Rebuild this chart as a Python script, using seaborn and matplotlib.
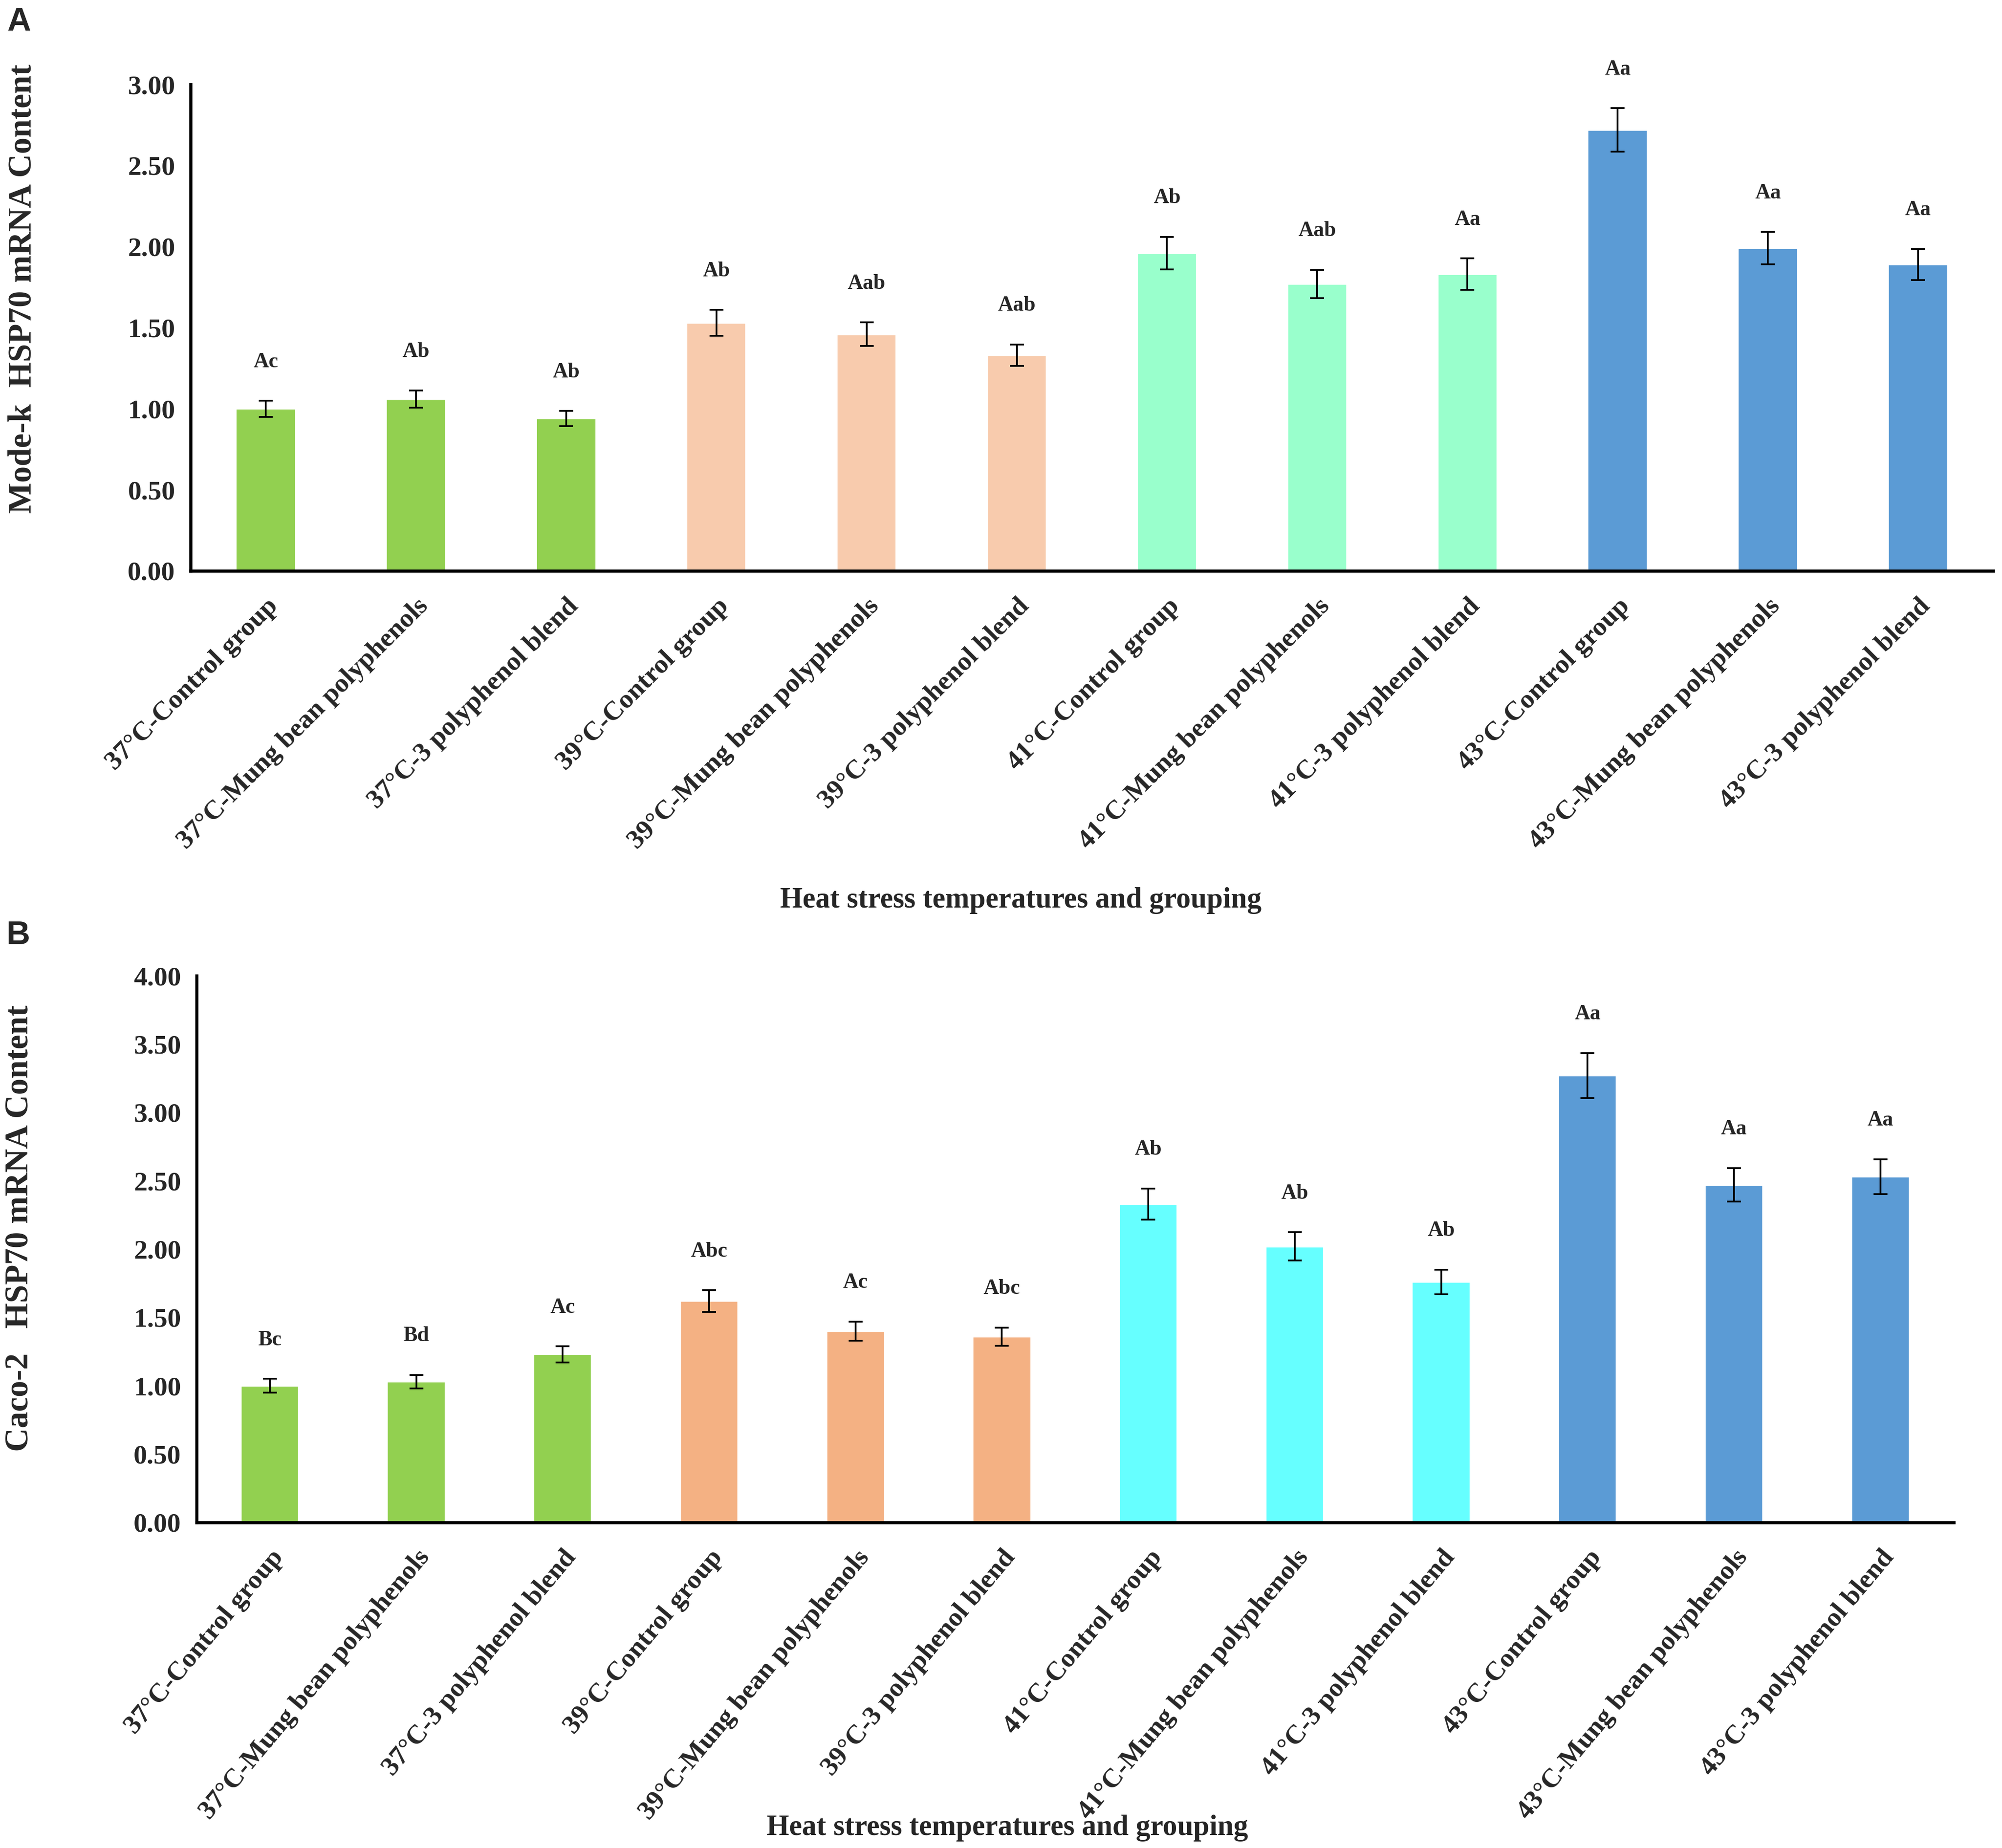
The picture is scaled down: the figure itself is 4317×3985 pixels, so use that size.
import numpy as np
import pandas as pd
import matplotlib
matplotlib.use("Agg")
import matplotlib.pyplot as plt
import seaborn as sns

# Datos
grupos = ["37°C-Control group", "37°C-Mung bean polyphenols", "37°C-3 polyphenol blend",
          "39°C-Control group", "39°C-Mung bean polyphenols", "39°C-3 polyphenol blend",
          "41°C-Control group", "41°C-Mung bean polyphenols", "41°C-3 polyphenol blend",
          "43°C-Control group", "43°C-Mung bean polyphenols", "43°C-3 polyphenol blend"]

# Panel A - Mode-k
modek_media = [1.00, 1.06, 0.94, 1.53, 1.46, 1.33, 1.96, 1.77, 1.83, 2.72, 1.99, 1.89]
modek_error = [0.05, 0.053, 0.047, 0.08, 0.072, 0.067, 0.10, 0.087, 0.097, 0.134, 0.10, 0.096]
modek_letras = ["Ac", "Ab", "Ab", "Ab", "Aab", "Aab", "Ab", "Aab", "Aa", "Aa", "Aa", "Aa"]

# Panel B - Caco-2
caco_media = [1.00, 1.03, 1.23, 1.62, 1.40, 1.36, 2.33, 2.02, 1.76, 3.27, 2.47, 2.53]
caco_error = [0.05, 0.05, 0.059, 0.08, 0.07, 0.066, 0.114, 0.104, 0.09, 0.165, 0.123, 0.128]
caco_letras = ["Bc", "Bd", "Ac", "Abc", "Ac", "Abc", "Ab", "Ab", "Ab", "Aa", "Aa", "Aa"]

colores_a = ["#92D050"] * 3 + ["#F8CBAD"] * 3 + ["#99FFCC"] * 3 + ["#5B9BD5"] * 3
colores_b = ["#92D050"] * 3 + ["#F4B183"] * 3 + ["#66FFFF"] * 3 + ["#5B9BD5"] * 3

sns.set_style("white")
plt.rcParams["font.family"] = ["Liberation Serif", "DejaVu Serif"]
plt.rcParams["font.weight"] = "bold"

fig = plt.figure(figsize=(4317 / 300, 3985 / 300), dpi=300)
ax_a = fig.add_axes([0.0952, 0.6911, 0.9004, 0.2632])
ax_b = fig.add_axes([0.0982, 0.1762, 0.8776, 0.2958])


def dibujar(ax, media, error, letras, colores, ymax, ylabel, ylab_xy, xlab_xy, rot):
    df = pd.DataFrame({"grupo": grupos, "valor": media})
    sns.barplot(data=df, x="grupo", y="valor", hue="grupo", palette=colores,
                legend=False, width=0.4, saturation=1, ax=ax)
    x = np.arange(len(grupos))
    ax.errorbar(x, media, yerr=error, fmt="none", ecolor="black",
                elinewidth=0.9, capsize=3.5, capthick=0.9)
    for i in range(len(grupos)):
        ax.annotate(letras[i], (x[i], media[i] + error[i]), xytext=(0, 20),
                    textcoords="offset points", ha="center", va="center",
                    fontsize=11, fontweight="bold")
    ax.set_xlim(-0.5, len(grupos) - 0.5)
    ax.set_ylim(0, ymax)
    ax.set_yticks(np.arange(0, ymax + 0.01, 0.5))
    ax.set_yticklabels([f"{v:.2f}" for v in np.arange(0, ymax + 0.01, 0.5)],
                       fontsize=14, fontweight="bold")
    ax.set_xticks(x)
    ax.set_xticklabels(grupos, rotation=rot, ha="right", rotation_mode="anchor",
                       fontsize=14, fontweight="bold")
    ax.set_xticks(np.arange(-0.5, len(grupos), 1), minor=True)
    ax.tick_params(axis="x", which="major", length=0, pad=12)
    ax.tick_params(axis="x", which="minor", direction="in", length=4, width=1.3)
    ax.tick_params(axis="y", direction="in", length=4, width=1.3, pad=8)
    for lado in ["top", "right"]:
        ax.spines[lado].set_visible(False)
    for lado in ["left", "bottom"]:
        ax.spines[lado].set_linewidth(1.6)
        ax.spines[lado].set_color("black")
    ax.set_ylabel(ylabel, fontsize=17, fontweight="bold")
    ax.yaxis.set_label_coords(*ylab_xy)
    ax.yaxis.label.set_va("center")
    ax.set_xlabel("Heat stress temperatures and grouping", fontsize=15, fontweight="bold")
    ax.xaxis.set_label_coords(*xlab_xy)
    ax.xaxis.label.set_va("center")


dibujar(ax_a, modek_media, modek_error, modek_letras, colores_a, 3.0,
        "Mode-k  HSP70 mRNA Content", (-0.093, 0.58), (0.4605, -0.678), 45)
dibujar(ax_b, caco_media, caco_error, caco_letras, colores_b, 4.0,
        "Caco-2   HSP70 mRNA Content", (-0.1006, 0.538), (0.4615, -0.559), 50)

fig.text(0.0095, 0.988, "A", fontsize=17, fontweight="bold", ha="center", va="center",
         family=["Liberation Sans", "DejaVu Sans"])
fig.text(0.009, 0.4936, "B", fontsize=17, fontweight="bold", ha="center", va="center",
         family=["Liberation Sans", "DejaVu Sans"])

fig.savefig("out.png", dpi=300, facecolor="white")
